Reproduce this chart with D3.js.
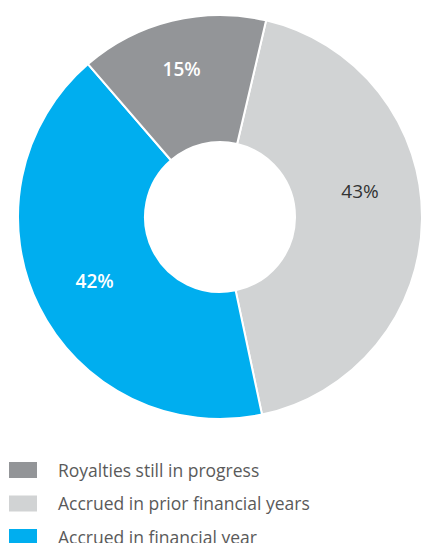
<!DOCTYPE html>
<html>
<head>
<meta charset="utf-8">
<script src="https://cdn.jsdelivr.net/npm/d3@7"></script>
<style>
  body { margin: 0; background: #fff; }
  svg { display: block; }
</style>
</head>
<body>
<div id="chart"></div>
<script>
// data, clockwise from the slice just right of 12 o'clock
var categories = ["Accrued in prior financial years", "Accrued in financial year", "Royalties still in progress"];
var values = [43, 42, 15];
var labels = ["43%", "42%", "15%"];
var colors = ["#d1d3d4", "#00aeef", "#939598"];
var labelColors = ["#333333", "#ffffff", "#ffffff"];
var legendOrder = [2, 0, 1];

var width = 422;
var height = 543;
var cx = 220, cy = 217;
var outerR = 202, innerR = 75;

var svg = d3.select('#chart')
    .append('svg')
    .attr('width', width)
    .attr('height', height);

var start = 13.2 * Math.PI / 180;
var pie = d3.pie()
    .sort(null)
    .value(d => d)
    .startAngle(start)
    .endAngle(start + 2 * Math.PI);

var arc = d3.arc().innerRadius(innerR).outerRadius(outerR);
var labelArc = d3.arc().innerRadius(140).outerRadius(140);
var labelNudge = [[0, -27], [0, 2], [-5, -12]];

var g = svg.append('g')
    .attr("transform", "translate(" + cx + "," + cy + ")");

var arcs = pie(values);

g.selectAll('path')
    .data(arcs)
    .enter()
    .append('path')
    .attr('d', arc)
    .attr('fill', (d, i) => colors[i])
    .attr('stroke', '#fff')
    .attr('stroke-width', 2);

g.selectAll('text.lbl')
    .data(arcs)
    .enter()
    .append('text')
    .attr('class', 'lbl')
    .attr('x', (d, i) => labelArc.centroid(d)[0] + labelNudge[i][0])
    .attr('y', (d, i) => labelArc.centroid(d)[1] + labelNudge[i][1])
    .attr('text-anchor', 'middle')
    .attr('dy', '0.35em')
    .attr('font-family', 'Open Sans, sans-serif')
    .attr('font-size', 19)
    .attr('font-weight', (d, i) => i == 0 ? 400 : 600)
    .attr('fill', (d, i) => labelColors[i])
    .text((d, i) => labels[i]);

// legend
var legend = svg.append('g')
    .attr("transform", "translate(9,462)");

var item = legend.selectAll('g')
    .data(legendOrder)
    .enter()
    .append('g')
    .attr("transform", (d, i) => "translate(0," + (i * 33.5) + ")");

item.append('rect')
    .attr('width', 28)
    .attr('height', 16)
    .attr('fill', d => colors[d]);

item.append('text')
    .attr('x', 49)
    .attr('y', 14.5)
    .attr('font-family', 'Open Sans, sans-serif')
    .attr('font-size', 17.5)
    .attr('fill', '#5a5a5a')
    .text(d => categories[d]);
</script>
</body>
</html>
